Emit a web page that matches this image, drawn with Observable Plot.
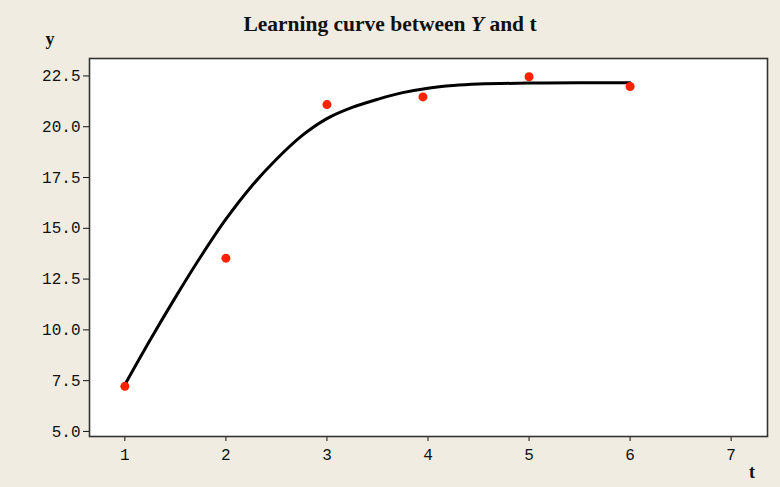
<!DOCTYPE html>
<html>
<head>
<meta charset="utf-8">
<script src="https://cdn.jsdelivr.net/npm/d3@7"></script>
<script src="https://cdn.jsdelivr.net/npm/@observablehq/plot@0.6"></script>
<style>
  html, body { margin: 0; padding: 0; background: #f0ece2; }
  #chart svg { display: block; }
</style>
</head>
<body>
<div id="chart"></div>
<script>
// Observed data
const tObs = [1, 2, 3, 3.95, 5, 6];
const yObs = [7.22, 13.53, 21.09, 21.47, 22.46, 21.98];

// Fitted learning curve
const fitT = [1, 1.25, 1.5, 1.75, 2, 2.25, 2.5, 2.75, 3, 3.25, 3.5, 3.75, 4, 4.25, 4.5, 5, 5.5, 6];
const fitY = [7.3, 9.5, 11.6, 13.6, 15.45, 17.05, 18.4, 19.55, 20.4, 20.95, 21.35, 21.68, 21.9, 22.03, 22.1, 22.15, 22.16, 22.16];

// Tick labels
const xTicks = [1, 2, 3, 4, 5, 6, 7];
const yTicks = [5, 7.5, 10, 12.5, 15, 17.5, 20, 22.5];

const obs = tObs.map((t, i) => ({t, y: yObs[i]}));
const fit = fitT.map((t, i) => ({t, y: fitY[i]}));

const chart = Plot.plot({
  width: 780,
  height: 487,
  marginLeft: 89,
  marginRight: 13,
  marginTop: 58,
  marginBottom: 51,
  x: {domain: [0.65, 7.36]},
  y: {domain: [4.75, 23.36]},
  style: {background: "#f0ece2", fontFamily: "'Liberation Mono', monospace", fontSize: "16px", color: "#111"},
  marks: [
    Plot.frame({fill: "white", stroke: "none"}),
    Plot.axisX({ticks: xTicks, tickSize: 5, tickPadding: 7, label: null, tickFormat: d => String(d)}),
    Plot.axisY({ticks: yTicks, tickSize: 6, tickPadding: 3, label: null, tickFormat: d3.format(".1f")}),
    Plot.line(fit, {x: "t", y: "y", stroke: "black", strokeWidth: 3, curve: "catmull-rom"}),
    Plot.dot(obs, {x: "t", y: "y", r: 4.5, fill: "#ff2200", stroke: "none"}),
    Plot.frame({stroke: "#333", strokeWidth: 1.6})
  ]
});

document.getElementById("chart").appendChild(chart);

const svg = d3.select(chart);
svg.selectAll("g[aria-label$='tick label']")
  .attr("font-size", null)
  .style("font-size", "16px")
  .style("font-family", "'Liberation Mono', monospace");

const title = svg.append("text")
  .attr("x", 390).attr("y", 31)
  .attr("text-anchor", "middle")
  .style("font-family", "'Liberation Serif', 'Times New Roman', serif")
  .style("font-weight", "bold")
  .style("font-size", "21.5px")
  .attr("fill", "#111");
title.append("tspan").text("Learning curve between ");
title.append("tspan").style("font-style", "italic").text("Y");
title.append("tspan").text(" and t");

svg.append("text")
  .attr("x", 50).attr("y", 45)
  .attr("text-anchor", "middle")
  .style("font-family", "'Liberation Serif', serif")
  .style("font-weight", "bold")
  .style("font-size", "18px")
  .attr("fill", "#111")
  .text("y");

svg.append("text")
  .attr("x", 752).attr("y", 478)
  .attr("text-anchor", "middle")
  .style("font-family", "'Liberation Serif', serif")
  .style("font-weight", "bold")
  .style("font-size", "18px")
  .attr("fill", "#111")
  .text("t");
</script>
</body>
</html>
